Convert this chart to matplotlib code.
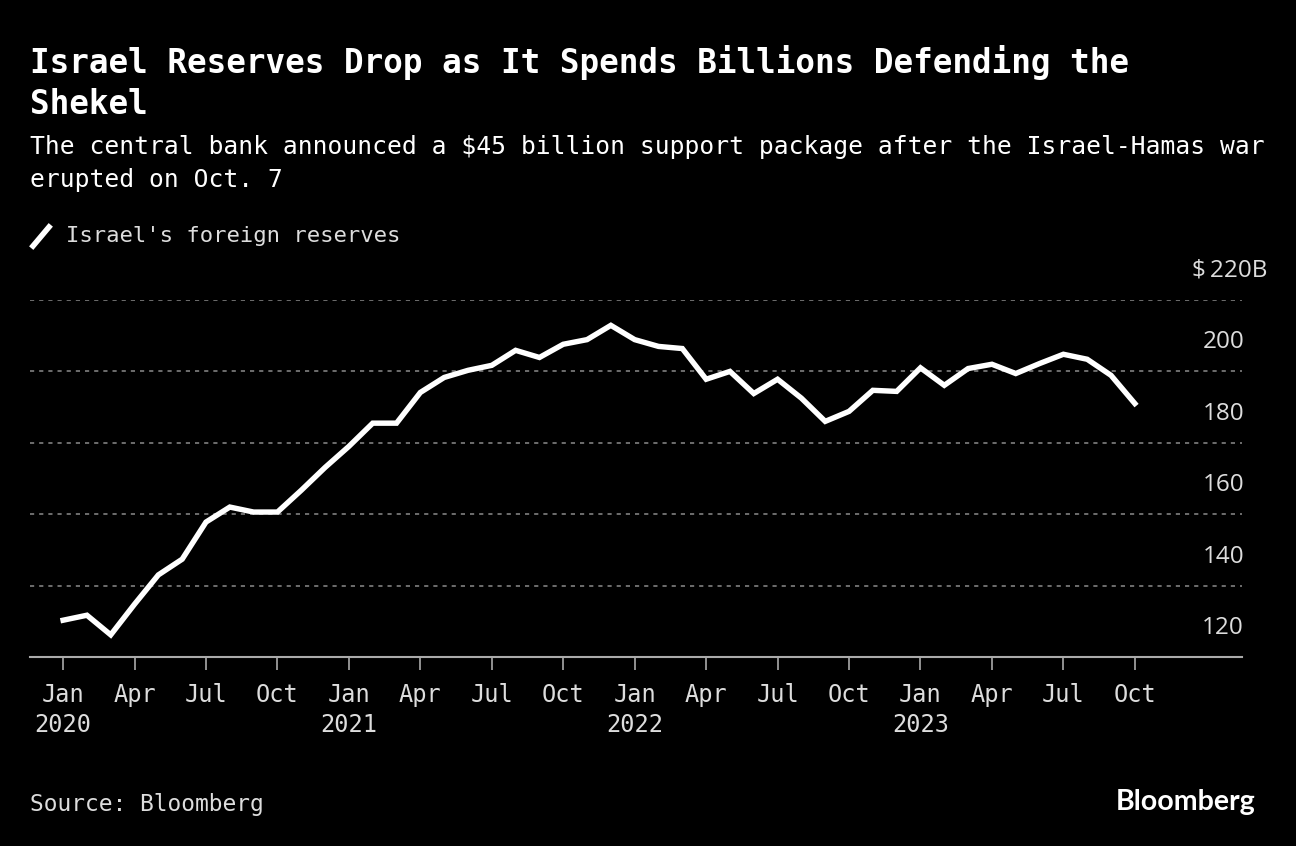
import matplotlib
matplotlib.use("Agg")
import matplotlib.pyplot as plt
from matplotlib.lines import Line2D

# monthly foreign reserves, $B, Jan 2020 .. Oct 2023
months = list(range(46))
reserves = [
    130.3, 131.7, 126.2, 134.8, 143.0, 147.4, 157.8, 162.0, 160.6, 160.6, 166.7, 173.1,
    179.0, 185.5, 185.5, 194.1, 198.3, 200.3, 201.7, 205.9, 203.9, 207.6, 208.9, 212.9,
    208.9, 207.0, 206.4, 197.8, 200.0, 193.8, 197.8, 192.5, 186.0, 188.8, 194.7, 194.4,
    201.0, 196.1, 200.8, 202.0, 199.4, 202.2, 204.8, 203.4, 198.9, 191.0,
]
tick_pos = list(range(0, 46, 3))
tick_labels = ["Jan\n2020", "Apr", "Jul", "Oct", "Jan\n2021", "Apr", "Jul", "Oct",
               "Jan\n2022", "Apr", "Jul", "Oct", "Jan\n2023", "Apr", "Jul", "Oct"]
y_ticks = [120, 140, 160, 180, 200, 220]
y_labels = ["120", "140", "160", "180", "200", "$\u2009220B"]

BG = "black"
TXT = "#dddddd"
MONO = ["DejaVu Sans Mono"]
SANS = ["Open Sans", "DejaVu Sans"]

W, H = 1296, 846
fig = plt.figure(figsize=(W / 100, H / 100), dpi=100, facecolor=BG)
ax = fig.add_axes([30 / W, 1 - 657 / H, 1212 / W, 357 / H], facecolor=BG)

ax.plot(months, reserves, color="white", lw=3.9, solid_joinstyle="miter", zorder=3)

ax.set_xlim(-1.39, 49.5)
ax.set_ylim(120, 220)

for v in y_ticks[1:]:
    ax.axhline(v, color="#808080", lw=1.2, ls=(0, (2.5, 3)), zorder=1)
for v, lab in zip(y_ticks, y_labels):
    # the unit label on top hangs out past the right edge
    dx = 25 if lab.endswith("B") else 2
    ax.annotate(lab, (1.0, v), xycoords=ax.get_yaxis_transform(),
                xytext=(dx, 29), textcoords="offset pixels", ha="right", va="center",
                color=TXT, fontsize=17.5, family=SANS)
ax.set_yticks([])

ax.set_xticks(tick_pos)
ax.set_xticklabels(tick_labels, color=TXT, fontsize=17, family=MONO, linespacing=1.3)
ax.tick_params(axis="x", colors="#aaaaaa", length=9, width=1.2, pad=10, labelcolor=TXT)

for s in ["top", "right", "left"]:
    ax.spines[s].set_visible(False)
ax.spines["bottom"].set_color("#aaaaaa")
ax.spines["bottom"].set_linewidth(1.5)

# titles
fig.text(30 / W, 1 - 62 / H, "Israel Reserves Drop as It Spends Billions Defending the",
         color="white", fontsize=23.5, fontweight="bold", family=MONO, va="center")
fig.text(30 / W, 1 - 104 / H, "Shekel",
         color="white", fontsize=23.5, fontweight="bold", family=MONO, va="center")
fig.text(30 / W, 1 - 147 / H,
         "The central bank announced a $45 billion support package after the Israel-Hamas war",
         color="white", fontsize=17.7, family=MONO, va="center")
fig.text(30 / W, 1 - 180 / H, "erupted on Oct. 7",
         color="white", fontsize=17.7, family=MONO, va="center")

# legend
fig.add_artist(Line2D([33 / W, 49 / W], [1 - 246 / H, 1 - 227 / H], color="white",
                      lw=4, transform=fig.transFigure))
fig.text(66 / W, 1 - 236 / H, "Israel's foreign reserves", color=TXT, fontsize=16,
         family=MONO, va="center")

# footer
fig.text(30 / W, 1 - 804 / H, "Source: Bloomberg", color=TXT, fontsize=16.5,
         family=MONO, va="center")
fig.text(1256 / W, 1 - 802 / H, "Bloomberg", color="white", fontsize=20.5,
         fontweight="bold", family=["Lato", "DejaVu Sans"], ha="right", va="center")

fig.savefig("out.png", dpi=100, facecolor=BG)
